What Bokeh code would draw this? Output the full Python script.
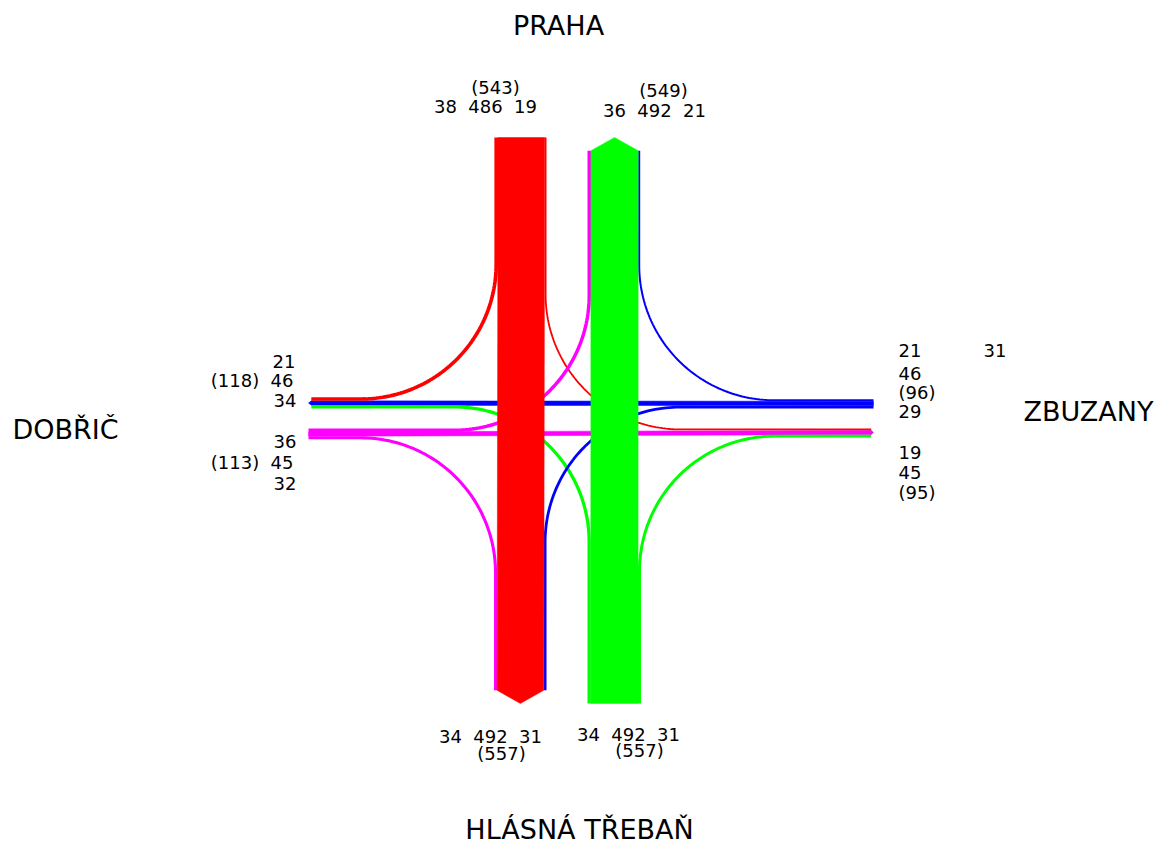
import numpy as np
from bokeh.plotting import figure
from bokeh.models import Range1d, ColumnDataSource
from bokeh.embed import file_html
from bokeh.resources import INLINE
from bokeh.core.properties import value

# ---------------- data ----------------
arm_codes = ["N", "S", "W", "E"]
arm_names = ["PRAHA", "HLÁSNÁ TŘEBAŇ", "DOBŘIČ", "ZBUZANY"]
arm_colors = ["#ff0000", "#00ff00", "#ff00ff", "#0000ff"]   # colour of traffic originating at each arm

flow_origin = ["N", "N", "N", "S", "S", "S", "W", "W", "W", "E", "E", "E"]
flow_dest   = ["W", "S", "E", "W", "N", "E", "N", "E", "S", "N", "W", "S"]
flow_volume = [38, 486, 19, 34, 492, 31, 36, 45, 32, 21, 46, 29]

praha_in_labels = ["(543)", "38  486  19"]
praha_out_labels = ["(549)", "36  492  21"]
hlasna_out_labels = ["34  492  31", "(557)"]
hlasna_in_labels = ["34  492  31", "(557)"]
dobric_out_labels = ["21", "(118)  46", "34"]
dobric_in_labels = ["36", "(113)  45", "32"]
zbuzany_in_labels = ["21", "46", "(96)", "29"]
zbuzany_side_label = ["31"]
zbuzany_out_labels = ["19", "45", "(95)"]

# ---------------- layout ----------------
W, H = 1161, 847
CX, CY = 566.5, 418.0          # intersection centre (screen px)
GV, GH = 20.5, 10.0            # half gap between opposite lanes
SCALE = 0.096                  # px per vehicle
R = 135.0                      # turning radius
ARM_END = {"N": 137.0, "S": 703.0, "W": 308.0, "E": 873.0}
OUT = {"N": (0.0, -1.0), "S": (0.0, 1.0), "W": (-1.0, 0.0), "E": (1.0, 0.0)}
color_of = dict(zip(arm_codes, arm_colors))
vertical = {"N": True, "S": True, "W": False, "E": False}


def turn_type(o, d):
    din = -np.array(OUT[o])
    dout = np.array(OUT[d])
    if np.allclose(din, dout):
        return "straight"
    c = din[0] * dout[1] - din[1] * dout[0]
    return "left" if c < 0 else "right"


def pt(arm, along, lateral):
    return (lateral, along) if vertical[arm] else (along, lateral)


n = len(flow_volume)
width = [v * SCALE for v in flow_volume]
ttype = [turn_type(o, d) for o, d in zip(flow_origin, flow_dest)]
order = {"left": 0, "straight": 1, "right": 2}
pos_in = [0.0] * n
pos_out = [0.0] * n
edges_in = [None] * n
edges_out = [None] * n

for arm in arm_codes:
    g = GV if vertical[arm] else GH
    k = 0 if vertical[arm] else 1
    c0 = CX if vertical[arm] else CY
    for inbound in (True, False):
        idx = [i for i in range(n) if (flow_origin[i] if inbound else flow_dest[i]) == arm]
        idx.sort(key=lambda i: order[ttype[i]])
        u = np.array(OUT[arm])
        d = -u if inbound else u
        r = np.array([-d[1], d[0]])
        off = g
        for i in idx:
            a = c0 + off * r[k]
            b = c0 + (off + width[i]) * r[k]
            if inbound:
                pos_in[i] = (a + b) / 2
                edges_in[i] = sorted((a, b))
            else:
                pos_out[i] = (a + b) / 2
                edges_out[i] = sorted((a, b))
            off += width[i]

lane_total_out = {arm: sum(width[i] for i in range(n) if flow_dest[i] == arm) for arm in arm_codes}
arrow_len = {arm: lane_total_out[arm] / 4.0 for arm in arm_codes}


def turn_path(i):
    o, d = flow_origin[i], flow_dest[i]
    din = -np.array(OUT[o])
    dout = np.array(OUT[d])
    start = np.array(pt(o, ARM_END[o], pos_in[i]))
    kd = 1 if vertical[d] else 0
    end_along = ARM_END[d] - arrow_len[d] * dout[kd]
    end = np.array(pt(d, end_along, pos_out[i]))
    if vertical[o]:
        P = np.array([pos_in[i], pos_out[i]])
    else:
        P = np.array([pos_out[i], pos_in[i]])
    s = P - R * din
    e = P + R * dout
    c = s + R * dout
    t0 = np.arctan2(s[1] - c[1], s[0] - c[0])
    t1 = np.arctan2(e[1] - c[1], e[0] - c[0])
    dt = (t1 - t0 + np.pi) % (2 * np.pi) - np.pi
    ts = np.linspace(t0, t0 + dt, 60)
    xs = [start[0]] + list(c[0] + R * np.cos(ts)) + [end[0]]
    ys = [start[1]] + list(c[1] + R * np.sin(ts)) + [end[1]]
    return xs, ys


def straight_poly(i):
    o, d = flow_origin[i], flow_dest[i]
    ud = np.array(OUT[d])
    k = 1 if vertical[d] else 0
    a0 = ARM_END[o]
    a1 = ARM_END[d]
    a1s = a1 - arrow_len[d] * ud[k]
    lo_i, hi_i = edges_in[i]
    lo_o, hi_o = edges_out[i]
    pts = [pt(o, a0, lo_i), pt(o, a0, hi_i), pt(o, a1s, hi_o),
           pt(o, a1, (lo_o + hi_o) / 2), pt(o, a1s, lo_o)]
    return [q[0] for q in pts], [q[1] for q in pts]


p = figure(width=W, height=H, x_range=Range1d(0, W), y_range=Range1d(H, 0),
           output_backend="svg", toolbar_location=None, min_border=0,
           x_axis_location=None, y_axis_location=None)
p.grid.visible = False
p.outline_line_color = None
p.background_fill_color = "white"
p.border_fill_color = "white"

hs = [i for i in range(n) if ttype[i] == "straight" and not vertical[flow_origin[i]]]
vs = [i for i in range(n) if ttype[i] == "straight" and vertical[flow_origin[i]]]
tr = [i for i in range(n) if ttype[i] != "straight"]


def band_source(ids):
    xs, ys, cols = [], [], []
    for i in ids:
        x, y = straight_poly(i)
        xs.append(x)
        ys.append(y)
        cols.append(color_of[flow_origin[i]])
    return ColumnDataSource(dict(xs=xs, ys=ys, color=cols))


p.patches("xs", "ys", source=band_source(hs), fill_color="color", line_color="color", line_width=0.5)

txs, tys, tcol, tw = [], [], [], []
for i in tr:
    x, y = turn_path(i)
    txs.append(x)
    tys.append(y)
    tcol.append(color_of[flow_origin[i]])
    tw.append(width[i])
p.multi_line("xs", "ys", source=ColumnDataSource(dict(xs=txs, ys=tys, color=tcol, w=tw)),
             line_color="color", line_width="w", line_cap="butt", line_join="round")

p.patches("xs", "ys", source=band_source(vs), fill_color="color", line_color="color", line_width=0.5)

# ---------------- texts ----------------
NUM_FONT = "DejaVu Sans"


def keep_spaces(texts):
    return [t.replace("  ", "\u00a0\u00a0") for t in texts]


num_groups = [
    # (texts, x positions, vertical centres, align)
    (praha_in_labels, [CX - 71.5, CX - 81.5], [87, 106], "center"),
    (praha_out_labels, [CX + 96.5, CX + 87.5], [90, 110], "center"),
    (hlasna_out_labels, [CX - 76.5, CX - 65.5], [736, 753], "center"),
    (hlasna_in_labels, [CX + 61.5, CX + 72.5], [734, 750], "center"),
    (dobric_out_labels, [295, 293, 296], [361, 380, 400], "right"),
    (dobric_in_labels, [296, 293, 296], [441, 462, 483], "right"),
    (zbuzany_in_labels, [898, 898, 898, 898], [350, 373, 392, 411], "left"),
    (zbuzany_side_label, [983], [350], "left"),
    (zbuzany_out_labels, [898, 898, 898], [452, 472, 492], "left"),
]
for texts, xs, ys, align in num_groups:
    p.text(x=xs, y=ys, text=keep_spaces(texts), text_align=align, text_baseline="middle",
           text_font=value(NUM_FONT), text_font_size=value("18px"), text_color="black")

name_pos = {"N": (558, 25, "center"), "S": (579, 829, "center"),
            "W": (12, 429, "left"), "E": (1153, 411, "right")}
for code, name in zip(arm_codes, arm_names):
    x, y, al = name_pos[code]
    p.text(x=[x], y=[y], text=[name], text_align=al, text_baseline="middle",
           text_font=value(NUM_FONT), text_font_size=value("27px"), text_color="black")

open("out.html", "w").write(file_html(p, INLINE))
